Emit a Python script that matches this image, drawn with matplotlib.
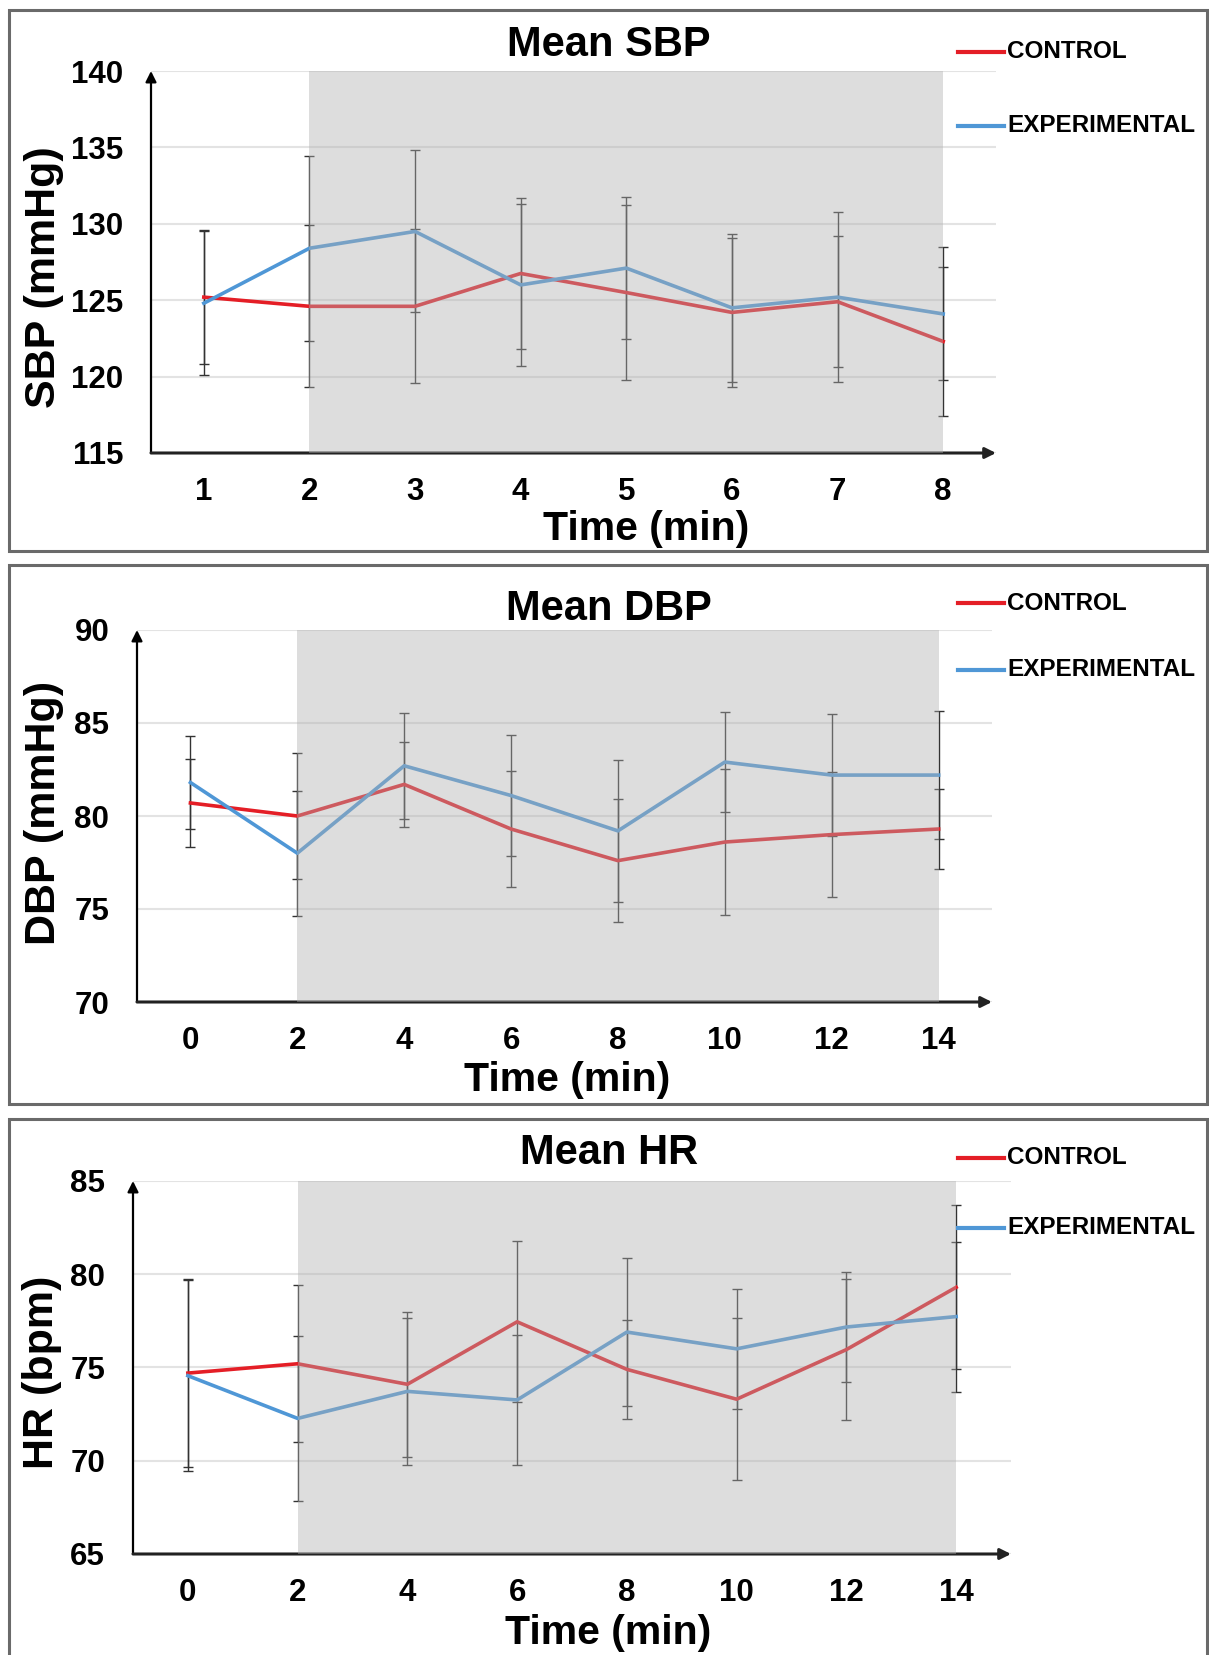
import matplotlib
matplotlib.use('Agg')
import matplotlib.pyplot as plt
from matplotlib.patches import Rectangle
from matplotlib.lines import Line2D

plt.rcParams['font.family'] = ['Liberation Sans', 'DejaVu Sans']
plt.rcParams['font.weight'] = 'bold'

W, H = 1209, 1655

# --- data ---
sbp_time = [1, 2, 3, 4, 5, 6, 7, 8]
sbp_control = [125.2, 124.6, 124.6, 126.75, 125.5, 124.2, 124.9, 122.3]
sbp_control_err = [4.4, 5.3, 5.05, 4.95, 5.7, 4.85, 4.3, 4.9]
sbp_exp = [124.8, 128.4, 129.5, 126.0, 127.1, 124.5, 125.2, 124.1]
sbp_exp_err = [4.7, 6.05, 5.3, 5.3, 4.65, 4.85, 5.55, 4.35]
sbp_ticks = [115, 120, 125, 130, 135, 140]

dbp_time = [0, 2, 4, 6, 8, 10, 12, 14]
dbp_control = [80.7, 80.0, 81.7, 79.3, 77.6, 78.6, 79.0, 79.3]
dbp_control_err = [2.35, 3.37, 2.28, 3.1, 3.32, 3.9, 3.38, 2.17]
dbp_exp = [81.8, 78.0, 82.7, 81.1, 79.2, 82.9, 82.2, 82.2]
dbp_exp_err = [2.5, 3.35, 2.85, 3.25, 3.82, 2.7, 3.26, 3.45]
dbp_ticks = [70, 75, 80, 85, 90]

hr_time = [0, 2, 4, 6, 8, 10, 12, 14]
hr_control = [74.7, 75.2, 74.1, 77.45, 74.9, 73.3, 75.96, 79.3]
hr_control_err = [5.02, 4.2, 3.9, 4.32, 2.67, 4.35, 3.76, 4.4]
hr_exp = [74.56, 72.27, 73.72, 73.26, 76.9, 76.0, 77.17, 77.73]
hr_exp_err = [5.13, 4.43, 3.93, 3.5, 3.98, 3.22, 2.96, 4.02]
hr_ticks = [65, 70, 75, 80, 85]

RED = '#E41E26'
BLUE = '#4F97D6'

fig = plt.figure(figsize=(W / 100, H / 100), dpi=100)


def px(x, y):
    # pixel (from top-left) to figure fraction
    return x / W, 1 - y / H


def panel(box, axbox, time, control, control_err, exp, exp_err, ticks,
          xlim, shade, title, ylabel, title_xy, ylab_xy, xlab_xy, leg_y):
    # panel border
    x0, y0, x1, y1 = box
    fig.add_artist(Rectangle(px(x0, y1), (x1 - x0) / W, (y1 - y0) / H,
                             transform=fig.transFigure, fill=False,
                             edgecolor='#6a6a6a', lw=2.2))
    l, t, r, b = axbox
    ax = fig.add_axes([l / W, 1 - b / H, (r - l) / W, (b - t) / H])

    ax.errorbar(time, control, yerr=control_err, fmt='none', ecolor='#333333',
                elinewidth=1.0, capsize=3.5, capthick=1.0, zorder=2)
    ax.errorbar(time, exp, yerr=exp_err, fmt='none', ecolor='#333333',
                elinewidth=1.0, capsize=3.5, capthick=1.0, zorder=2)
    ax.plot(time, control, color=RED, lw=2.6, zorder=3)
    ax.plot(time, exp, color=BLUE, lw=2.6, zorder=3)
    ax.axvspan(shade[0], shade[1], color='#AFAFAF', alpha=0.42, lw=0, zorder=4)

    ax.set_xlim(*xlim)
    ax.set_ylim(ticks[0], ticks[-1])
    ax.set_xticks(time)
    ax.set_yticks(ticks)
    ax.tick_params(length=0, labelsize=22.5, pad=17)
    ax.tick_params(axis='y', pad=20)
    for lab in ax.get_xticklabels() + ax.get_yticklabels():
        lab.set_fontweight('bold')
    ax.yaxis.grid(True, color='#E3E3E3', lw=1.5, zorder=1)
    ax.set_axisbelow(True)
    for s in ax.spines.values():
        s.set_visible(False)

    # axis arrows
    ax.annotate('', xy=(0, 1.0), xytext=(0, 0), xycoords='axes fraction',
                arrowprops=dict(arrowstyle='-|>', color='black', lw=1.6,
                                mutation_scale=16, shrinkA=0, shrinkB=0))
    ax.annotate('', xy=(1.0, 0), xytext=(0, 0), xycoords='axes fraction',
                arrowprops=dict(arrowstyle='-|>', color='#222222', lw=2.2,
                                mutation_scale=16, shrinkA=0, shrinkB=0))

    fig.text(*px(*title_xy), title, fontsize=30, fontweight='bold',
             ha='center', va='center')
    fig.text(*px(*ylab_xy), ylabel, fontsize=31, fontweight='bold',
             ha='center', va='center', rotation=90)
    fig.text(*px(*xlab_xy), 'Time (min)', fontsize=29.5, fontweight='bold',
             ha='center', va='center')

    # legend
    lx0, lx1 = 958, 1004
    for yy, c, name in [(leg_y[0], RED, 'CONTROL'), (leg_y[1], BLUE, 'EXPERIMENTAL')]:
        fx0, fy = px(lx0, yy)
        fx1, _ = px(lx1, yy)
        fig.add_artist(Line2D([fx0, fx1], [fy, fy], transform=fig.transFigure,
                              color=c, lw=3.0))
        fig.text(*px(lx1 + 3, yy), name, fontsize=17.5, fontweight='bold',
                 ha='left', va='center')
    return ax


panel((9, 10, 1207, 551), (151, 71, 996, 453), sbp_time, sbp_control,
      sbp_control_err, sbp_exp, sbp_exp_err, sbp_ticks, (0.5, 8.5), (2, 8),
      'Mean SBP', 'SBP (mmHg)', (609, 45), (44, 277), (646, 529), (52, 126))

panel((9, 565, 1207, 1104), (137, 630, 992, 1002), dbp_time, dbp_control,
      dbp_control_err, dbp_exp, dbp_exp_err, dbp_ticks, (-1, 15), (2, 14),
      'Mean DBP', 'DBP (mmHg)', (609, 609), (44, 813), (567, 1080), (603, 670))

panel((9, 1119, 1207, 1665), (133, 1181, 1011, 1554), hr_time, hr_control,
      hr_control_err, hr_exp, hr_exp_err, hr_ticks, (-1, 15), (2, 14),
      'Mean HR', 'HR (bpm)', (609, 1153), (42, 1372), (608, 1633), (1158, 1228))

fig.savefig('out.png', dpi=100)
